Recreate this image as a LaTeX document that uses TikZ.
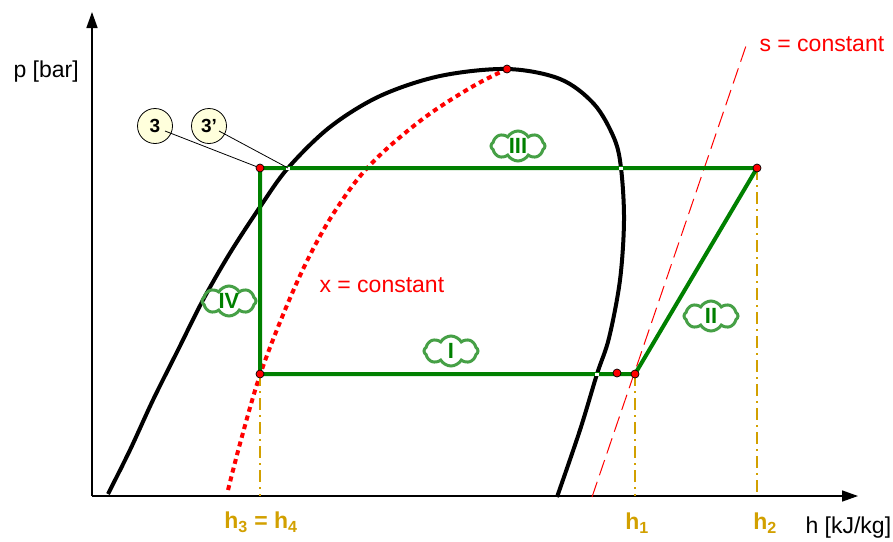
\documentclass[tikz,border=0pt]{standalone}
\usepackage{fontspec}
\setmainfont{Liberation Sans}
\usetikzlibrary{shapes.symbols,arrows.meta}
\definecolor{cyc}{RGB}{0,128,0}
\definecolor{cloudg}{RGB}{70,160,70}
\definecolor{gold}{RGB}{210,160,0}
\definecolor{callout}{RGB}{255,255,220}
\tikzset{
  axis/.style={line width=1.5pt, -{Triangle[length=16pt,width=11pt]}},
  dome/.style={line width=4pt, black},
  cycle/.style={line width=4pt, cyc},
  pt/.style={circle, fill=red, draw=black, line width=0.7pt, inner sep=0pt, minimum size=8pt},
  proj/.style={gold, line width=1.6pt, dash pattern=on 12pt off 5pt on 2pt off 5pt},
  cloudlbl/.style={cloud, cloud puffs=8, cloud puff arc=120, aspect=1.9, draw=cloudg, line width=3pt, inner sep=0pt, minimum width=54pt, minimum height=30pt},
  cloudtxt/.style={text=cyc, font=\bfseries\fontsize{22}{24}\selectfont, inner sep=0pt},
  circ/.style={circle, draw=black, fill=callout, line width=0.8pt, minimum size=35pt, inner sep=0pt, font=\bfseries\fontsize{19}{21}\selectfont},
  lbl/.style={font=\fontsize{23}{25}\selectfont},
  hlbl/.style={gold, font=\bfseries\fontsize{23}{25}\selectfont}
}
\begin{document}
\begin{tikzpicture}[x=1pt,y=-1pt]
\useasboundingbox (0,0) rectangle (893,541);
% axes
\coordinate (O) at (92,496);
\coordinate (ytop) at (92,12);
\coordinate (xend) at (858,496);
\draw[axis] (O) -- (ytop);
\draw[axis] (O) -- (xend);
\node[lbl, anchor=west] (plbl) at (10,72) {p [bar]};
\node[lbl, anchor=west] (hlbl) at (802,528) {h [kJ/kg]};
% s = constant
\coordinate (s1) at (592,497);
\coordinate (s2) at (748,40);
\draw[red, line width=1pt, dash pattern=on 16pt off 7pt] (s1) -- (s2);
\node[lbl, red, anchor=west] (slbl) at (756,44) {s = constant};
% x = constant
\draw[red, line width=4pt, dash pattern=on 5pt off 4pt] plot[smooth, tension=0.6] coordinates {(228,490) (241,440) (260,375) (285,310) (310,255) (337,208) (370,165) (420,121) (470,88) (507,69)};
\node[lbl, red, anchor=west] (xlbl) at (316,285) {x = constant};
% dome
\draw[dome] plot[smooth, tension=0.55] coordinates {(108,494) (130,450) (153,400) (178,350) (203,300) (230,253) (260,207) (288,168) (330,127) (380,96) (440,76) (507,69) (560,79) (594,104) (614,138) (621,168) (624,220) (620,280) (609,338) (597,374) (580,430) (557,497)};
% projections
\coordinate (h34) at (260,496);
\coordinate (h1b) at (635,496);
\coordinate (h2b) at (757,496);
\coordinate (p4) at (260,374);
\coordinate (p1) at (635,374);
\coordinate (p2) at (757,168);
\coordinate (p3) at (260,168);
\draw[proj] (p4) -- (h34);
\draw[proj] (p1) -- (h1b);
\draw[proj] (p2) -- (h2b);
% cycle
\draw[cycle] (p3) -- (p2) -- (p1) -- (p4) -- cycle;
% intersection marks
\fill[white] (286,166.5) rectangle (290,169.5);
\fill[white] (619,166.5) rectangle (623,169.5);
\fill[white] (595,372.5) rectangle (599,375.5);
% points
\node[pt] (n3) at (p3) {};
\node[pt] (n4) at (p4) {};
\node[pt] (n1) at (p1) {};
\node[pt] (n2) at (p2) {};
\node[pt] (n1s) at (617,373) {};
\node[pt] (crit) at (507,69) {};
\coordinate (n3p) at (288,168);
% callouts
\node[circ] (c3) at (155,126) {3};
\node[circ] (c3p) at (209,126) {3'};
\draw[black, line width=0.8pt] (c3.center) ++(10,5) -- (n3);
\draw[black, line width=0.8pt] (c3p.center) ++(10,5) -- (n3p);
% cloud labels
\node[cloudlbl] (cIII) at (518,146) {};
\node[cloudtxt] (tIII) at (cIII.center) {III};
\node[cloudlbl] (cIV) at (229,301) {};
\node[cloudtxt] (tIV) at (cIV.center) {IV};
\node[cloudlbl] (cI) at (451,351) {};
\node[cloudtxt] (tI) at (cI.center) {I};
\node[cloudlbl] (cII) at (711,316) {};
\node[cloudtxt] (tII) at (cII.center) {II};
% h labels
\node[hlbl] (lh34) at (261,522) {h$_{\mathbf 3}$ = h$_{\mathbf 4}$};
\node[hlbl] (lh1) at (637,523) {h$_{\mathbf 1}$};
\node[hlbl] (lh2) at (765,523) {h$_{\mathbf 2}$};
\end{tikzpicture}
\end{document}
